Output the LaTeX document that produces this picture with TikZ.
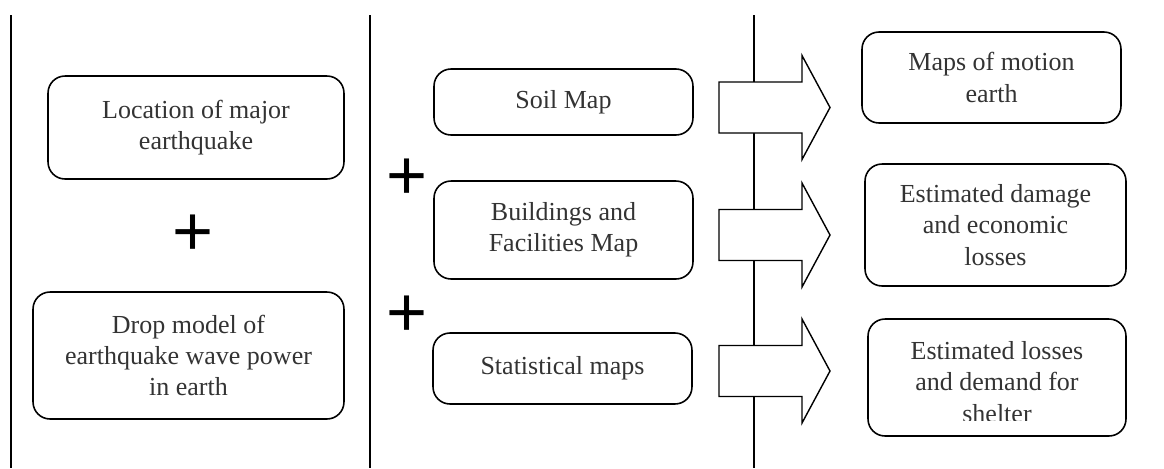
\documentclass[tikz,border=0pt]{standalone}
\usepackage{fontspec}
\setmainfont{Liberation Serif}
\newfontfamily\plusfont{Liberation Sans}
\usepackage{tikz}
\usetikzlibrary{arrows.meta,positioning,calc}
\definecolor{boxtext}{HTML}{333333}

\begin{document}
\begin{tikzpicture}[x=0.02cm, y=-0.02cm,
      box/.style={draw, rounded corners=0.34cm, line width=0.9pt, align=center,
                  font=\fontsize{14.8}{17.9}\selectfont, text=boxtext, inner sep=2pt},
      plussign/.style={font=\plusfont\fontsize{40}{40}\selectfont, inner sep=0pt},
      blockarrow/.style={draw, fill=white, line width=0.8pt},
      divider/.style={line width=1.1pt}
    ]
      \useasboundingbox (0,0) rectangle (1164,468);
      \coordinate (d1) at (11,15);
      \coordinate (d2) at (370,15);
      \coordinate (d3) at (754,15);
      \foreach \d in {d1,d2,d3}
        \draw[divider] (\d) -- (\d |- 0,468);

      \node[box, minimum width=5.92cm, minimum height=2.06cm] (loc) at (196,127.5) {Location of major\\earthquake};
      \node[box, minimum width=6.22cm, minimum height=2.54cm] (drop) at (188.5,355.5) {Drop model of\\earthquake wave power\\in earth};
      \node[plussign] (p1) at (193,235) {+};

      \node[box, minimum width=5.18cm, minimum height=1.32cm] (soil) at (563.5,102) {Soil Map};
      \node[box, minimum width=5.18cm, minimum height=1.96cm] (bldg) at (563.5,230) {Buildings and\\Facilities Map};
      \node[box, minimum width=5.18cm, minimum height=1.42cm] (stat) at (562.5,368.5) {Statistical maps};
      \node[plussign] (p2) at (407,179) {+};
      \node[plussign] (p3) at (407,316) {+};

      \foreach \ay in {107.5,235,371}
        \draw[blockarrow] (719,\ay-25.5) -- (802,\ay-25.5) -- (802,\ay-52) -- (830,\ay)
          -- (802,\ay+52) -- (802,\ay+25.5) -- (719,\ay+25.5) -- cycle;

      \node[box, minimum width=5.18cm, minimum height=1.82cm] (res1) at (991.5,77.5) {Maps of motion\\earth};
      \node[box, minimum width=5.22cm, minimum height=2.44cm] (res2) at (995.5,225) {Estimated damage\\and economic\\losses};
      \node[box, minimum width=5.16cm, minimum height=2.34cm] (res3) at (997,377.5) {};
      \begin{scope}
        \clip (860,322) rectangle (1130,420);
        \node[box, draw=none] (res3text) at (997,382) {Estimated losses\\and demand for\\shelter};
      \end{scope}
    \end{tikzpicture}
\end{document}
